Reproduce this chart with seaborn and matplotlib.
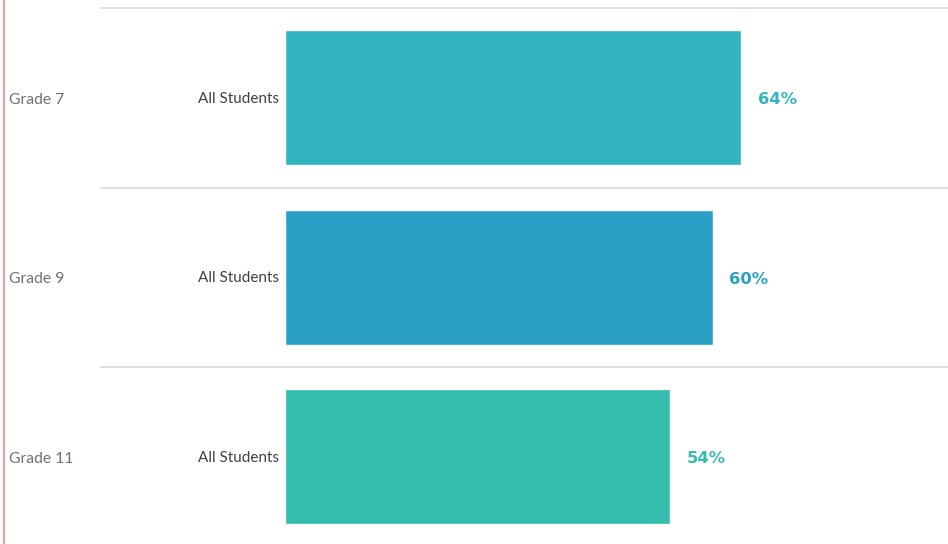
import matplotlib
matplotlib.use("Agg")
import matplotlib.pyplot as plt
from matplotlib.lines import Line2D
import seaborn as sns
import pandas as pd

# Share of students, by grade
grades = ["Grade 7", "Grade 9", "Grade 11"]
groups = ["All Students", "All Students", "All Students"]
values = [64, 60, 54]
colors = ["#32B4C1", "#2AA0C5", "#34BCAD"]

df = pd.DataFrame({"grade": grades, "group": groups, "pct": values})
palette = dict(zip(grades, colors))

sns.set_theme(style="white")
plt.rcParams["font.family"] = ["Lato", "DejaVu Sans"]

W, H = 948, 544
fig = plt.figure(figsize=(W / 100, H / 100), dpi=100)
fig.patch.set_facecolor("white")

# plotting area: bars start at x=285, rows start at y=8
x0, x1 = 285, 948
row_h = 179.5
top = 8
bottom = top + 3 * row_h
ax = fig.add_axes([x0 / W, (H - bottom) / H, (x1 - x0) / W, (bottom - top) / H])

sns.barplot(data=df, y="grade", x="pct", hue="grade", palette=palette,
            order=grades, hue_order=grades, width=0.75, dodge=False,
            legend=False, saturation=1, ax=ax)

px_per_pct = 7.125
ax.set_xlim(0, (x1 - x0) / px_per_pct)
ax.set_ylim(2.5, -0.5)
ax.set_xlabel("")
ax.set_ylabel("")
ax.set_xticks([])
ax.set_yticks([])
for s in ax.spines.values():
    s.set_visible(False)
ax.patch.set_alpha(0)

# row separators extend left under the header columns
sep_start = (101 - x0) / (x1 - x0)
for yb in [-0.5, 0.5, 1.5]:
    ax.axhline(yb, xmin=sep_start, xmax=1, color="#D9D9D9", lw=1.2,
               clip_on=False, zorder=0)

# value labels
for i, (v, c) in enumerate(zip(values, colors)):
    ax.annotate(f"{v}%", xy=(v, i), xytext=(17, -2), textcoords="offset pixels",
                ha="left", va="center", color=c, fontsize=11.8,
                fontweight="bold", family=["DejaVu Sans"])

# row headers
for i, (g, grp) in enumerate(zip(grades, groups)):
    ax.annotate(g, xy=(0, i), xycoords=("axes fraction", "data"),
                xytext=(9 - x0, -2), textcoords="offset pixels",
                ha="left", va="center", color="#707070", fontsize=11.3)
    ax.annotate(grp, xy=(0, i), xycoords=("axes fraction", "data"),
                xytext=(-6, -1), textcoords="offset pixels",
                ha="right", va="center", color="#404040", fontsize=11)

# left border
fig.add_artist(Line2D([3.5 / W, 3.5 / W], [0, 1], color="#EE8A84", lw=1.2,
                      transform=fig.transFigure))

fig.savefig("out.png", dpi=100, facecolor="white")
